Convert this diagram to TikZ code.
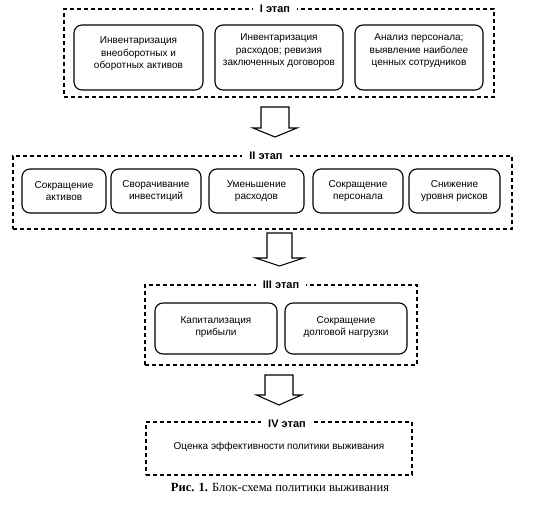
\documentclass[tikz,border=0pt]{standalone}
\usepackage{fontspec}
\setmainfont{Liberation Sans}
\newfontfamily\capfont{Liberation Serif}
\usepackage{tikz}

\begin{document}
\begin{tikzpicture}[x=1pt,y=-1pt,
    stagebox/.style={draw,dash pattern=on 4pt off 3pt,line width=1.1pt,inner sep=0pt},
    stagelabel/.style={fill=white,inner xsep=7pt,inner ysep=1pt,font=\fontsize{11}{13}\selectfont\bfseries},
    taskbox/.style={draw,rounded corners=8pt,line width=1.1pt,align=center,inner sep=0pt,
        font=\fontsize{10}{12.5}\selectfont},
    blockarr/.style={draw,line width=1.1pt,line join=miter}]
    \useasboundingbox (0,0) rectangle (549,521);

    % I stage
    \node[stagebox, minimum width=430pt, minimum height=88pt] (st1) at (279,53) {};
    \node[stagelabel] (lab1) at (275,9) {I этап};
    \node[taskbox, minimum width=129pt, minimum height=65pt] (inv) at (138.5,57.5)
        {Инвентаризация\\внеоборотных и\\оборотных активов\\[-3.5pt]};
    \node[taskbox, minimum width=128pt, minimum height=65pt] (rev) at (279,57.5)
        {Инвентаризация\\расходов; ревизия\\заключенных договоров\\[3pt]};
    \node[taskbox, minimum width=128pt, minimum height=65pt] (pers) at (419,57.5)
        {Анализ персонала;\\выявление наиболее\\ценных сотрудников\\[3pt]};

    \coordinate (a1) at (275,107);
    \draw[blockarr] (a1) ++(-14,0) -- ++(28,0) -- ++(0,21) -- ++(8,0) -- ++(-22,9)
        -- ++(-22,-9) -- ++(8,0) -- cycle;

    % II stage
    \node[stagebox, minimum width=499pt, minimum height=73pt] (st2) at (262.5,192.5) {};
    \node[stagelabel] (lab2) at (266,156) {II этап};
    \node[taskbox, minimum width=84pt, minimum height=44pt] (act) at (64,191)
        {Сокращение\\активов};
    \node[taskbox, minimum width=90pt, minimum height=44pt] (invest) at (156,191)
        {Сворачивание\\инвестиций};
    \node[taskbox, minimum width=95pt, minimum height=44pt] (cost) at (256.5,191)
        {Уменьшение\\расходов};
    \node[taskbox, minimum width=90pt, minimum height=44pt] (staff) at (358,191)
        {Сокращение\\персонала};
    \node[taskbox, minimum width=91pt, minimum height=44pt] (risk) at (454.5,191)
        {Снижение\\уровня рисков};

    \coordinate (a2) at (279.5,233);
    \draw[blockarr] (a2) ++(-12.5,0) -- ++(25,0) -- ++(0,25) -- ++(11.5,0) -- ++(-24,8)
        -- ++(-24,-8) -- ++(11.5,0) -- cycle;

    % III stage
    \node[stagebox, minimum width=272pt, minimum height=80pt] (st3) at (281,325) {};
    \node[stagelabel] (lab3) at (281,285) {III этап};
    \node[taskbox, minimum width=122pt, minimum height=51pt] (cap) at (216,328.5)
        {Капитализация\\прибыли\\[-7.5pt]};
    \node[taskbox, minimum width=122pt, minimum height=51pt] (debt) at (346,328.5)
        {Сокращение\\долговой нагрузки\\[-7.5pt]};

    \coordinate (a3) at (279,375);
    \draw[blockarr] (a3) ++(-14,0) -- ++(28,0) -- ++(0,20) -- ++(8.5,0) -- ++(-22.5,10)
        -- ++(-22.5,-10) -- ++(8.5,0) -- cycle;

    % IV stage
    \node[stagebox, minimum width=266pt, minimum height=53pt] (st4) at (279,448.5) {};
    \node[stagelabel] (lab4) at (287,424) {IV этап};
    \node[font=\fontsize{10}{12.5}\selectfont] (eval) at (279,447)
        {Оценка эффективности политики выживания};

    \node[font=\capfont\fontsize{12.5}{14}\selectfont] (cap1) at (280,487)
        {\textbf{Рис. 1.} Блок-схема политики выживания};
\end{tikzpicture}
\end{document}
